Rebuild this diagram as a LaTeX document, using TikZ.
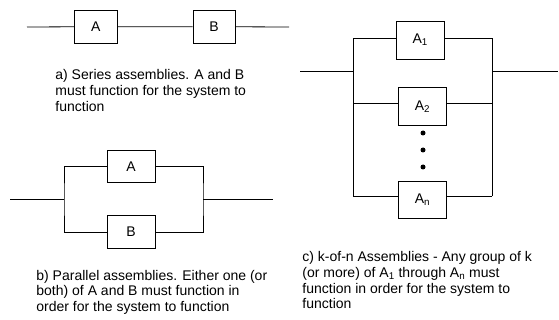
\documentclass[tikz,border=0pt]{standalone}
\usepackage{fontspec}
\setmainfont{Liberation Sans}
\begin{document}
\begin{tikzpicture}[x=1pt,y=-1pt,line width=0.8pt,
  blk/.style={draw, inner sep=0pt, font=\fontsize{14}{16}\selectfont},
  captxt/.style={align=left, inner sep=0pt, anchor=base west, font=\fontsize{14}{15.8}\selectfont},
  dot/.style={circle, fill, inner sep=0pt, minimum size=5pt}]
\useasboundingbox (0,0) rectangle (559,320);
% a) series
\coordinate (sL) at (27,27);
\coordinate (sR) at (289,27);
\node[blk, minimum width=43pt, minimum height=33pt] (sA) at (95.7,26.7) {A};
\node[blk, minimum width=42pt, minimum height=33pt] (sB) at (214,26.7) {B};
\draw (sL) -- (sA) -- (sB) -- (sR);
\node[captxt] (capa) at (55,111.6) {a) Series assemblies. A and B\\must function for the system to\\function};
% b) parallel
\coordinate (pL) at (10,199.5);
\coordinate (pJL) at (64,199.5);
\coordinate (pJR) at (203,199.5);
\coordinate (pR) at (273,199.5);
\node[blk, minimum width=48pt, minimum height=32.5pt] (pA) at (131,166.5) {A};
\node[blk, minimum width=48pt, minimum height=32.5pt] (pB) at (131,232) {B};
\draw (pL) -- (pJL);
\draw (pJR) -- (pR);
\draw (pA.west) -| (pJL) |- (pB.west);
\draw (pA.east) -| (pJR) |- (pB.east);
\node[captxt] (capb) at (36,311.6) {b) Parallel assemblies. Either one (or\\both) of A and B must function in\\order for the system to function};
% c) k-of-n
\coordinate (kL) at (300,71);
\coordinate (kJL) at (353,71);
\coordinate (kJR) at (492,71);
\coordinate (kR) at (558,71);
\coordinate (k1L) at (353,38.5);
\coordinate (k1R) at (492,38.5);
\coordinate (k2L) at (353,103);
\coordinate (k2R) at (493,103);
\coordinate (knL) at (353,196);
\coordinate (knR) at (492,196);
\node[blk, minimum width=48pt, minimum height=38pt] (A1) at (420.2,40) {A\textsubscript{1}};
\node[blk, minimum width=48.5pt, minimum height=38pt] (A2) at (422.5,106.3) {A\textsubscript{2}};
\node[blk, minimum width=48.5pt, minimum height=37pt] (An) at (422.5,199.5) {A\textsubscript{n}};
\draw (kL) -- (kJL);
\draw (kJR) -- (kR);
\draw (k1L) -- (knL);
\draw (k1R) -- (knR);
\draw (k1L) -- (k1L -| A1.west);
\draw (k1R) -- (k1R -| A1.east);
\draw (k2L) -- (k2L -| A2.west);
\draw (k2R) -- (k2R -| A2.east);
\draw (knL) -- (knL -| An.west);
\draw (knR) -- (knR -| An.east);
\node[dot] (d1) at (423,133) {};
\node[dot] (d2) at (423,150) {};
\node[dot] (d3) at (423,167) {};
\node[captxt] (capc) at (302,308.9) {c) k-of-n Assemblies - Any group of k\\(or more) of A\textsubscript{1} through A\textsubscript{n} must\\function in order for the system to\\function};
\end{tikzpicture}
\end{document}
